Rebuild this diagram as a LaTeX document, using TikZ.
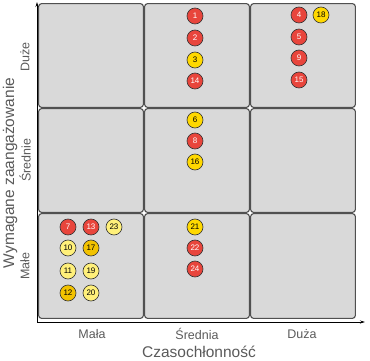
\documentclass[tikz,border=0pt]{standalone}
\usepackage{fontspec}
\setmainfont{Liberation Sans}
\usetikzlibrary{arrows.meta}
\definecolor{cellgray}{HTML}{D9D9D9}
\definecolor{celledge}{HTML}{505050}
\definecolor{red1}{HTML}{E8453C}
\definecolor{gold1}{HTML}{FFD800}
\definecolor{gold2}{HTML}{F2C200}
\definecolor{ltyel}{HTML}{FFF07A}
\definecolor{txtgray}{HTML}{5A5A5A}
\tikzset{
  cell/.style={draw=celledge, line width=1.1pt, fill=cellgray, rounded corners=3pt},
  dot/.style={circle, draw=black!80, line width=0.6pt, minimum size=16pt, inner sep=0pt, font=\fontsize{8}{9}\selectfont},
  rdot/.style={dot, fill=red1, text=white},
  ydot/.style={dot, fill=gold1, text=black},
  gdot/.style={dot, fill=gold2, text=black},
  ldot/.style={dot, fill=ltyel, text=black},
  tick/.style={text=txtgray, font=\fontsize{12.5}{14}\selectfont},
  axlab/.style={text=txtgray, font=\fontsize{15.5}{17}\selectfont},
  axis/.style={line width=0.9pt, -{Stealth[length=5pt,width=3pt]}}
}
\begin{document}
\begin{tikzpicture}[x=1pt,y=-1pt]
\useasboundingbox (0,0) rectangle (370,361);
% cells
\foreach \c/\xa/\xb in {1/38/144,2/144/250,3/250/356}{
  \foreach \r/\ya/\yb in {1/3/108,2/108/213,3/213/319}{
    \path[cell] (\xa+0.6,\ya+0.6) rectangle (\xb-0.6,\yb-0.6);
  }
}
% axes
\coordinate (o) at (37,322);
\coordinate (ytop) at (37,2);
\coordinate (xend) at (365,322);
\draw[axis] (o) -- (ytop);
\draw[axis] (o) -- (xend);
% tick labels
\node[tick, rotate=90] (tDuze) at (25,57) {Duże};
\node[tick, rotate=90] (tSrednie) at (25,160) {Średnie};
\node[tick, rotate=90] (tMale) at (25,266) {Małe};
\node[tick] (tMala) at (92,334) {Mała};
\node[tick] (tSrednia) at (197,334) {Średnia};
\node[tick] (tDuza) at (302,334) {Duża};
\node[axlab, rotate=90] (ylab) at (10,173) {Wymagane zaangażowanie};
\node[axlab] (xlab) at (199,352) {Czasochłonność};
% circles: middle column
\node[rdot] (c1) at (195,16) {1};
\node[rdot] (c2) at (195,38) {2};
\node[ydot] (c3) at (195,60) {3};
\node[rdot] (c14) at (195,81) {14};
\node[ydot] (c6) at (195,120) {6};
\node[rdot] (c8) at (195,141) {8};
\node[ydot] (c16) at (195,162) {16};
\node[ydot] (c21) at (195,227) {21};
\node[rdot] (c22) at (195,248) {22};
\node[rdot] (c24) at (195,269) {24};
% right column
\node[rdot] (c4) at (299,15) {4};
\node[ydot] (c18) at (321,15) {18};
\node[rdot] (c5) at (299,37) {5};
\node[rdot] (c9) at (299,58) {9};
\node[rdot] (c15) at (299,80) {15};
% left column
\node[rdot] (c7) at (68,227) {7};
\node[rdot] (c13) at (91,227) {13};
\node[ldot] (c23) at (114,227) {23};
\node[ldot] (c10) at (68,248) {10};
\node[gdot] (c17) at (91,248) {17};
\node[ldot] (c11) at (68,271) {11};
\node[ldot] (c19) at (91,271) {19};
\node[gdot] (c12) at (68,293) {12};
\node[ldot] (c20) at (91,293) {20};
\end{tikzpicture}
\end{document}
